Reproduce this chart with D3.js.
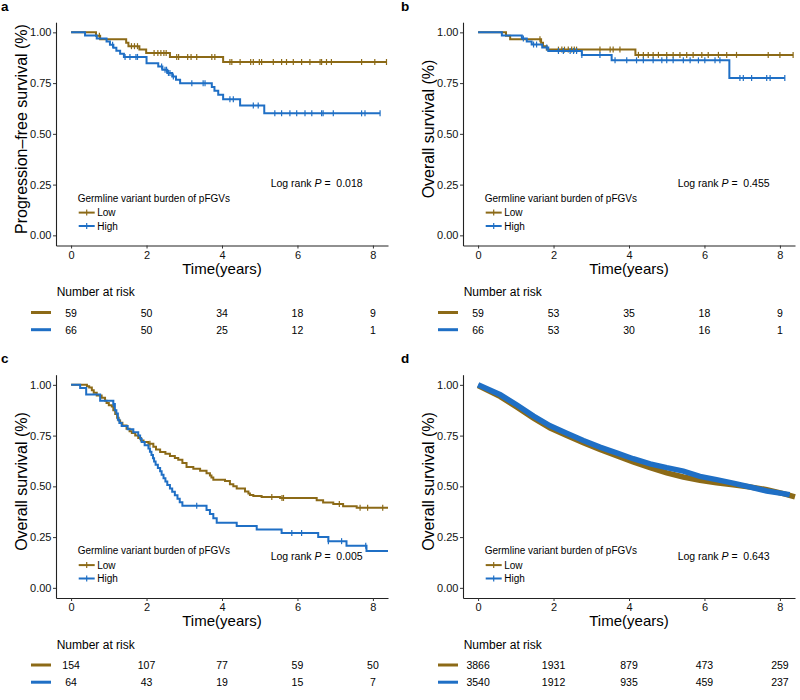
<!DOCTYPE html>
<html><head><meta charset="utf-8">
<script src="https://cdn.jsdelivr.net/npm/d3@7"></script>
<style>
body{margin:0;background:#fff;}
text{font-family:"Liberation Sans",Arial,Helvetica,sans-serif;}
</style></head>
<body><svg id="c" width="800" height="700"></svg>
<script>
// ---------- data ----------
const xTicks = [0, 2, 4, 6, 8];
const yTicks = [0, 0.25, 0.5, 0.75, 1];
const groups = ["Low", "High"];
const legendTitle = "Germline variant burden of pFGVs";
const panelLetters = ["a", "b", "c", "d"];
const yTitles = ["Progression\u2013free survival (%)", "Overall survival (%)", "Overall survival (%)", "Overall survival (%)"];
const pValues = ["0.018", "0.455", "0.005", "0.643"];

// panel a
const aLowTime = [0, 0.66, 0.77, 1.46, 1.52, 1.81, 1.99, 2.62, 4.03, 8.36];
const aLowSurv = [1, 0.983, 0.966, 0.949, 0.932, 0.915, 0.898, 0.878, 0.854, 0.854];
const aLowCens = [0.75, 1.6, 1.68, 1.76, 2.2, 2.3, 2.38, 2.46, 2.52, 2.8, 2.85, 3.09, 3.18, 3.33, 3.73, 3.81, 4.21, 4.26, 4.48, 4.76, 4.83, 4.99, 5.05, 5.36, 5.58, 5.71, 5.89, 6.11, 6.33, 6.6, 6.64, 6.77, 6.9, 7.7, 8.05, 8.36];
const aHighTime = [0, 0.37, 0.68, 0.94, 1.03, 1.12, 1.2, 1.3, 1.4, 2.0, 2.31, 2.42, 2.55, 2.68, 2.78, 2.89, 3.73, 3.8, 3.9, 4.03, 4.48, 5.12, 8.19];
const aHighSurv = [1, 0.985, 0.970, 0.955, 0.939, 0.924, 0.909, 0.894, 0.879, 0.848, 0.832, 0.816, 0.800, 0.783, 0.766, 0.749, 0.731, 0.712, 0.692, 0.671, 0.640, 0.601, 0.601];
const aHighCens = [1.1, 1.43, 1.56, 1.72, 1.76, 2.4, 2.49, 2.53, 2.58, 2.62, 2.71, 3.2, 3.5, 3.55, 4.21, 4.3, 4.83, 4.96, 5.4, 5.58, 5.8, 5.98, 6.2, 6.38, 6.64, 6.68, 6.95, 7.7, 7.79, 8.19];
const aRiskLow = [59, 50, 34, 18, 9];
const aRiskHigh = [66, 50, 25, 12, 1];

// panel b
const bLowTime = [0, 0.74, 0.85, 1.67, 1.72, 1.82, 4.17, 8.35];
const bLowSurv = [1, 0.983, 0.966, 0.949, 0.932, 0.915, 0.889, 0.889];
const bLowCens = [1.64, 2.13, 2.22, 2.29, 2.39, 2.48, 2.55, 2.61, 3.23, 3.5, 3.58, 3.76, 4.25, 4.38, 4.51, 4.64, 4.78, 5.0, 5.17, 5.35, 5.53, 5.7, 5.93, 6.1, 6.37, 6.59, 6.85, 7.69, 8.0, 8.35];
const bHighTime = [0, 0.63, 1.16, 1.29, 1.42, 1.7, 1.86, 2.75, 3.54, 6.66, 8.13];
const bHighSurv = [1, 0.985, 0.970, 0.955, 0.940, 0.925, 0.908, 0.889, 0.862, 0.775, 0.775];
const bHighCens = [1.2, 1.47, 1.55, 1.82, 2.13, 2.26, 2.44, 2.53, 2.61, 2.75, 3.23, 3.63, 3.94, 4.2, 4.38, 4.64, 4.87, 5.0, 5.17, 5.44, 5.62, 5.84, 6.01, 6.28, 6.41, 6.94, 7.03, 7.25, 7.65, 7.74, 8.13];
const bRiskLow = [59, 53, 35, 18, 9];
const bRiskHigh = [66, 53, 30, 16, 1];

// panel c
const cLowTime = [0, 0.42, 0.48, 0.55, 0.6, 0.68, 0.81, 0.9, 0.94, 1.0, 1.08, 1.12, 1.17, 1.22, 1.26, 1.3, 1.36, 1.47, 1.55, 1.61, 1.7, 1.78, 1.85, 1.92, 2.05, 2.18, 2.25, 2.36, 2.5, 2.62, 2.75, 2.84, 2.95, 3.06, 3.24, 3.42, 3.59, 3.68, 3.72, 3.77, 4.08, 4.21, 4.3, 4.39, 4.61, 4.7, 4.74, 4.83, 5.05, 5.54, 6.51, 6.68, 6.95, 7.21, 7.57, 8.4];
const cLowSurv = [1, 0.993, 0.987, 0.974, 0.961, 0.947, 0.936, 0.922, 0.911, 0.9, 0.893, 0.875, 0.857, 0.838, 0.825, 0.813, 0.8, 0.784, 0.772, 0.763, 0.751, 0.738, 0.726, 0.718, 0.71, 0.695, 0.682, 0.669, 0.66, 0.649, 0.64, 0.631, 0.615, 0.595, 0.587, 0.577, 0.565, 0.553, 0.543, 0.533, 0.526, 0.51, 0.5, 0.489, 0.475, 0.465, 0.458, 0.452, 0.447, 0.443, 0.432, 0.42, 0.413, 0.402, 0.395, 0.395];
const cLowCens = [2.09, 5.32, 5.59, 5.63, 7.11, 7.66, 7.86, 8.26];
const cHighTime = [0, 0.24, 0.4, 0.77, 1.12, 1.16, 1.2, 1.24, 1.28, 1.34, 1.5, 1.65, 1.78, 1.83, 1.87, 1.95, 2.05, 2.09, 2.13, 2.17, 2.2, 2.24, 2.3, 2.36, 2.4, 2.45, 2.5, 2.55, 2.62, 2.68, 2.75, 2.82, 2.88, 2.95, 3.59, 3.68, 3.77, 3.86, 4.39, 4.92, 5.58, 6.55, 6.82, 7.3, 7.83, 8.4];
const cHighSurv = [1, 0.984, 0.953, 0.922, 0.906, 0.875, 0.859, 0.828, 0.812, 0.797, 0.781, 0.766, 0.75, 0.734, 0.718, 0.702, 0.686, 0.67, 0.654, 0.638, 0.622, 0.606, 0.59, 0.574, 0.557, 0.54, 0.524, 0.507, 0.49, 0.473, 0.456, 0.439, 0.422, 0.405, 0.384, 0.364, 0.343, 0.321, 0.305, 0.288, 0.27, 0.25, 0.23, 0.207, 0.182, 0.182];
const cHighCens = [1.12, 3.33, 5.85, 6.11, 6.82, 7.17, 7.81];
const cRiskLow = [154, 107, 77, 59, 50];
const cRiskHigh = [64, 43, 19, 15, 7];

// panel d
const dLowTime = [0, 0.59, 1.03, 1.47, 1.91, 2.35, 2.79, 3.23, 3.67, 4.11, 4.56, 5.0, 5.44, 5.88, 6.32, 6.76, 7.21, 7.65, 8.09, 8.4];
const dLowSurv = [0.997, 0.942, 0.89, 0.836, 0.787, 0.751, 0.715, 0.682, 0.651, 0.62, 0.592, 0.566, 0.546, 0.53, 0.518, 0.508, 0.497, 0.484, 0.464, 0.448];
const dHighTime = [0, 0.59, 1.03, 1.47, 1.91, 2.35, 2.79, 3.23, 3.67, 4.11, 4.56, 5.0, 5.44, 5.88, 6.32, 6.76, 7.21, 7.65, 8.09, 8.26];
const dHighSurv = [1, 0.951, 0.901, 0.846, 0.798, 0.762, 0.726, 0.693, 0.665, 0.636, 0.611, 0.592, 0.575, 0.549, 0.533, 0.516, 0.497, 0.477, 0.464, 0.459];
const dRiskLow = [3866, 1931, 879, 473, 259];
const dRiskHigh = [3540, 1912, 935, 459, 237];

// ---------- style ----------
const colors = ["#8C6A17", "#1F6FC5"];
const svg = d3.select("#c");

const panels = [
  {ox: 0, oy: 0, curves: [[aLowTime, aLowSurv, aLowCens], [aHighTime, aHighSurv, aHighCens]], risk: [aRiskLow, aRiskHigh], pY: 186.5, step: true},
  {ox: 407, oy: 0, curves: [[bLowTime, bLowSurv, bLowCens], [bHighTime, bHighSurv, bHighCens]], risk: [bRiskLow, bRiskHigh], pY: 186.5, step: true},
  {ox: 0, oy: 352.5, curves: [[cLowTime, cLowSurv, cLowCens], [cHighTime, cHighSurv, cHighCens]], risk: [cRiskLow, cRiskHigh], pY: 207.5, step: true},
  {ox: 407, oy: 352.5, curves: [[dLowTime, dLowSurv, []], [dHighTime, dHighSurv, []]], risk: [dRiskLow, dRiskHigh], pY: 207.5, step: false}
];

function survAt(times, surv, t) {
  let s = surv[0];
  for (let i = 0; i < times.length; i++) { if (times[i] <= t) s = surv[i]; }
  return s;
}

panels.forEach((p, pi) => {
  const g = svg.append("g");
  const x = d3.scaleLinear().domain([-0.4, 8.4]).range([56 + p.ox, 388 + p.ox]);
  const y = d3.scaleLinear().domain([-0.05, 1.05]).range([245.5 + p.oy, 22.2 + p.oy]);

  // panel letter
  g.append("text").attr("x", p.ox === 0 ? 1 : 401).attr("y", 10.5 + p.oy)
    .attr("font-size", 13.5).attr("font-weight", "bold").text(panelLetters[pi]);

  // axes
  const yAx = g.append("g").attr("transform", `translate(${x.range()[0]},0)`)
    .call(d3.axisLeft(y).tickValues(yTicks).tickFormat(d3.format(".2f")).tickSize(3).tickSizeOuter(0).tickPadding(1.5));
  const xAx = g.append("g").attr("transform", `translate(0,${y.range()[0]})`)
    .call(d3.axisBottom(x).tickValues(xTicks).tickFormat(d3.format("d")).tickSize(3).tickSizeOuter(0).tickPadding(2.5));
  [yAx, xAx].forEach(a => {
    a.selectAll("text").attr("font-size", 11).attr("fill", "#111").style("font-family", '"Liberation Sans",Arial,sans-serif');
    a.selectAll("line").attr("stroke", "#333");
    a.select(".domain").attr("stroke", "#222").attr("stroke-width", 1.1);
  });

  // axis titles
  g.append("text").attr("transform", `translate(${27 + p.ox},${129 + p.oy}) rotate(-90)`)
    .attr("text-anchor", "middle").attr("font-size", 16).text(yTitles[pi]);
  g.append("text").attr("x", x(4)).attr("y", 273.8 + p.oy).attr("text-anchor", "middle")
    .attr("font-size", 15).text("Time(years)");

  // curves
  p.curves.forEach((c, gi) => {
    const [tt, ss, cens] = c;
    const pts = tt.map((t, i) => [t, ss[i]]);
    const line = d3.line().x(d => x(d[0])).y(d => y(d[1]))
      .curve(p.step ? d3.curveStepAfter : d3.curveLinear);
    g.append("path").attr("d", line(pts)).attr("fill", "none")
      .attr("stroke", colors[gi]).attr("stroke-width", p.step ? 2 : 5.5)
      .attr("stroke-linejoin", "miter");
    cens.forEach(t => {
      const cy = y(survAt(tt, ss, t));
      g.append("line").attr("x1", x(t)).attr("x2", x(t)).attr("y1", cy - 3).attr("y2", cy + 3)
        .attr("stroke", colors[gi]).attr("stroke-width", 1.2);
    });
  });

  // in-plot legend
  const lx = 77.7 + p.ox, ly = p.oy;
  g.append("text").attr("x", lx).attr("y", 201.5 + ly).attr("font-size", 10).text(legendTitle);
  groups.forEach((gr, gi) => {
    const ky = (gi === 0 ? 212.6 : 226) + ly;
    g.append("line").attr("x1", lx + 1).attr("x2", lx + 17).attr("y1", ky).attr("y2", ky)
      .attr("stroke", colors[gi]).attr("stroke-width", 2);
    g.append("line").attr("x1", lx + 9).attr("x2", lx + 9).attr("y1", ky - 3).attr("y2", ky + 3)
      .attr("stroke", colors[gi]).attr("stroke-width", 1.2);
    g.append("text").attr("x", lx + 19.5).attr("y", ky + 3.7).attr("font-size", 10).text(gr);
  });

  // p value
  const pt = g.append("text").attr("x", 270.7 + p.ox).attr("y", p.pY + (p.oy ? 352.5 : 0)).attr("font-size", 10.5);
  pt.append("tspan").text("Log rank ");
  pt.append("tspan").attr("font-style", "italic").text("P");
  pt.append("tspan").attr("xml:space", "preserve").text(" =  " + pValues[pi]);

  // risk table
  g.append("text").attr("x", 56.7 + p.ox).attr("y", 296 + p.oy).attr("font-size", 12).text("Number at risk");
  p.risk.forEach((row, gi) => {
    const ry = (gi === 0 ? 312.5 : 329.7) + p.oy;
    g.append("line").attr("x1", 31 + p.ox).attr("x2", 51 + p.ox).attr("y1", ry).attr("y2", ry)
      .attr("stroke", colors[gi]).attr("stroke-width", 3);
    row.forEach((n, i) => {
      g.append("text").attr("x", x(xTicks[i])).attr("y", ry + 4).attr("text-anchor", "middle")
        .attr("font-size", 10.5).text(n);
    });
  });
});
</script></body></html>
